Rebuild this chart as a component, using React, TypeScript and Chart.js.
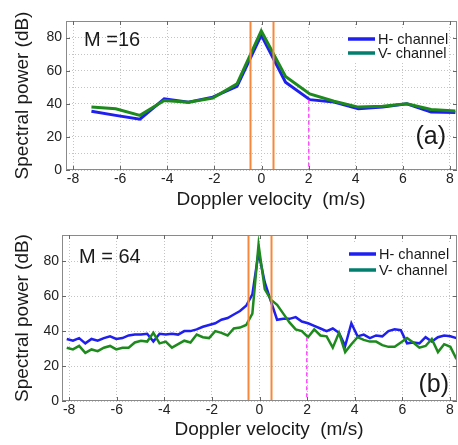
import React, { useEffect, useRef } from "react";
import { Chart, registerables } from "chart.js";

Chart.register(...registerables);

// ---------- DATA ----------
// Panel (a): M = 16
const velocityA = [-7.22, -6.19, -5.16, -4.13, -3.1, -2.07, -1.04, -0.01, 1.02, 2.05, 3.08, 4.11, 5.14, 6.17, 7.2, 8.23];
const hChannelA = [35.5, 33, 30.7, 43, 41, 44, 50.5, 81.5, 53, 42.5, 41, 37, 38, 40, 35, 34.7];
const vChannelA = [38, 37, 33, 42, 41, 43.5, 52, 84, 56.5, 46, 41.5, 38, 38.5, 40, 36.5, 35.7];

// Panel (b): M = 64
const velocityB = [
  -8.1, -7.84, -7.58, -7.32, -7.06, -6.8, -6.54, -6.28, -6.02, -5.76, -5.5, -5.24, -4.98, -4.72, -4.46, -4.2,
  -3.94, -3.68, -3.42, -3.16, -2.9, -2.64, -2.38, -2.12, -1.86, -1.6, -1.34, -1.08, -0.82, -0.56, -0.3, -0.04,
  0.22, 0.48, 0.74, 1.0, 1.26, 1.52, 1.78, 2.04, 2.3, 2.56, 2.82, 3.08, 3.34, 3.6, 3.86, 4.12,
  4.38, 4.64, 4.9, 5.16, 5.42, 5.68, 5.94, 6.2, 6.46, 6.72, 6.98, 7.24, 7.5, 7.76, 8.02, 8.28,
];
const hChannelB = [
  35.5, 34.5, 36, 33, 35.5, 34.5, 36, 37, 35.5, 36, 37.5, 38, 38, 38.5, 34, 38.5,
  38, 38.5, 38, 40, 40, 41, 42.5, 43.5, 44.5, 46.5, 47.5, 49.5, 51.5, 54.5, 61, 85,
  68, 57, 46.5, 47, 47, 48, 45.5, 44.5, 43, 41.5, 40, 41.5, 39, 31.5, 44.5, 37,
  38, 36, 37.5, 37, 40, 41, 40.5, 33, 33.5, 33, 36.5, 34, 36.5, 37.5, 37, 36,
];
const vChannelB = [
  30.5, 29.5, 31.5, 27.5, 29.5, 28.5, 30.5, 31.5, 29.5, 30.5, 30.5, 33.5, 34.5, 34, 39, 33,
  34, 30.5, 32.5, 34.5, 33.5, 38, 36.5, 36, 40, 39, 37.5, 41.5, 42, 43.5, 50, 89.5,
  64, 58, 55, 50, 45, 41, 40, 36.5, 41, 37.5, 37, 30.5, 39, 28, 32.5, 36.5,
  35, 34, 34, 32, 31, 31, 33.5, 36, 33.5, 30.5, 31.5, 35.5, 28, 32.5, 31, 24,
];

const xTickLabels = ["-8", "-6", "-4", "-2", "0", "2", "4", "6", "8"];
const yTickLabels = ["0", "20", "40", "60", "80"];
const seriesNames = ["H- channel", "V- channel"];
const gateLinesX = [-0.5, 0.5];
const markerX = 2;
const markerTopA = 42.5;
const markerTopB = 36.5;

// ---------- STYLE ----------
const FONT = '"Liberation Sans", Arial, Helvetica, sans-serif';
const BLUE = "#1f1ff0";
const GREEN = "#1e8a1e";
const LEGEND_GREEN = "#007f6e";
const ORANGE = "#f7883a";
const MAGENTA = "#ff4dff";
const TEXT = "#1a1a1a";

type PanelCfg = {
  velocity: number[];
  h: number[];
  v: number[];
  height: number;
  yMax: number;
  yStep: number;
  padTop: number;
  yAxisWidth: number;
  xAxisHeight: number;
  yTickPad: number;
  lineWidth: number;
  mText: string;
  mPos: [number, number];
  tag: string;
  tagPos: [number, number];
  xTitlePos: [number, number];
  markerTop: number;
  legend: { x: number; y: number; dy: number; box: [number, number, number, number] };
};

const panels: PanelCfg[] = [
  {
    velocity: velocityA,
    h: hChannelA,
    v: vChannelA,
    height: 222,
    yMax: 90,
    yStep: 10,
    padTop: 21,
    yAxisWidth: 66,
    xAxisHeight: 52,
    yTickPad: 4,
    lineWidth: 3,
    mText: "M =16",
    mPos: [84, 40],
    tag: "(a)",
    tagPos: [446, 137],
    xTitlePos: [271, 200],
    markerTop: markerTopA,
    legend: { x: 348, y: 39, dy: 14, box: [344, 29, 104, 33] },
  },
  {
    velocity: velocityB,
    h: hChannelB,
    v: vChannelB,
    height: 223,
    yMax: 95,
    yStep: 20,
    padTop: 13,
    yAxisWidth: 62,
    xAxisHeight: 44,
    yTickPad: 3,
    lineWidth: 2.5,
    mText: "M = 64",
    mPos: [79, 35],
    tag: "(b)",
    tagPos: [449, 163],
    xTitlePos: [269, 208],
    markerTop: markerTopB,
    legend: { x: 349, y: 32, dy: 16, box: [344, 22, 106, 36] },
  },
];

function makeDecor(cfg: PanelCfg) {
  return {
    id: "decor",
    afterDatasetsDraw(chart: any) {
      const { ctx, chartArea: a, scales } = chart;
      const x = scales.x;
      const y = scales.y;
      ctx.save();

      // gate lines
      ctx.strokeStyle = ORANGE;
      ctx.lineWidth = 2;
      for (const g of gateLinesX) {
        const px = Math.round(x.getPixelForValue(g)) + 0.5;
        ctx.beginPath();
        ctx.moveTo(px, a.top);
        ctx.lineTo(px, a.bottom);
        ctx.stroke();
      }

      // magenta marker
      ctx.strokeStyle = MAGENTA;
      ctx.lineWidth = 1.5;
      ctx.setLineDash([4, 3]);
      const mx = Math.round(x.getPixelForValue(markerX)) - 0.25;
      ctx.beginPath();
      ctx.moveTo(mx, y.getPixelForValue(cfg.markerTop));
      ctx.lineTo(mx, a.bottom);
      ctx.stroke();
      ctx.setLineDash([]);

      // box
      ctx.strokeStyle = "#8a8a8a";
      ctx.lineWidth = 1;
      ctx.strokeRect(Math.round(a.left) + 0.5, Math.round(a.top) + 0.5, Math.round(a.width) - 1, Math.round(a.height) - 1);

      // inner ticks
      ctx.strokeStyle = "#666";
      ctx.beginPath();
      for (const t of xTickLabels) {
        const px = Math.round(x.getPixelForValue(Number(t))) + 0.5;
        ctx.moveTo(px, a.bottom);
        ctx.lineTo(px, a.bottom - 4);
        ctx.moveTo(px, a.top);
        ctx.lineTo(px, a.top + 4);
      }
      for (const t of yTickLabels) {
        const py = Math.round(y.getPixelForValue(Number(t))) + 0.5;
        ctx.moveTo(a.left, py);
        ctx.lineTo(a.left + 4, py);
        ctx.moveTo(a.right, py);
        ctx.lineTo(a.right - 4, py);
      }
      ctx.stroke();

      // legend
      const L = cfg.legend;
      ctx.fillStyle = "#ffffff";
      ctx.fillRect(L.box[0], L.box[1], L.box[2], L.box[3]);
      const legendColors = [BLUE, LEGEND_GREEN];
      ctx.font = `14.5px ${FONT}`;
      ctx.textBaseline = "middle";
      ctx.textAlign = "left";
      seriesNames.forEach((name, i) => {
        const ly = L.y + i * L.dy;
        ctx.strokeStyle = legendColors[i];
        ctx.lineWidth = 3.5;
        ctx.beginPath();
        ctx.moveTo(L.x, ly);
        ctx.lineTo(L.x + 27, ly);
        ctx.stroke();
        ctx.fillStyle = TEXT;
        ctx.fillText(name, L.x + 30, ly + 0.5);
      });

      // M label
      ctx.fillStyle = TEXT;
      ctx.font = `20px ${FONT}`;
      ctx.textAlign = "left";
      ctx.fillText(cfg.mText, cfg.mPos[0], cfg.mPos[1]);

      // panel tag
      ctx.font = `25px ${FONT}`;
      ctx.textAlign = "right";
      ctx.fillText(cfg.tag, cfg.tagPos[0], cfg.tagPos[1]);

      // x title
      ctx.font = `19px ${FONT}`;
      ctx.textAlign = "center";
      ctx.fillText("Doppler velocity  (m/s)", cfg.xTitlePos[0], cfg.xTitlePos[1]);

      ctx.restore();
    },
  };
}

function Panel({ cfg }: { cfg: PanelCfg }) {
  const ref = useRef<HTMLCanvasElement>(null);
  useEffect(() => {
    const canvas = ref.current;
    if (!canvas) return;
    const chart = new Chart(canvas, {
      type: "line",
      data: {
        datasets: [
          {
            label: seriesNames[1],
            data: cfg.velocity.map((vv, i) => ({ x: vv, y: cfg.v[i] })),
            borderColor: GREEN,
            borderWidth: cfg.lineWidth,
            pointRadius: 0,
            tension: 0,
            order: 0,
          },
          {
            label: seriesNames[0],
            data: cfg.velocity.map((vv, i) => ({ x: vv, y: cfg.h[i] })),
            borderColor: BLUE,
            borderWidth: cfg.lineWidth,
            pointRadius: 0,
            tension: 0,
            order: 1,
          },
        ],
      },
      options: {
        responsive: false,
        animation: false,
        devicePixelRatio: 1,
        layout: { padding: { top: cfg.padTop, right: 1, left: 0, bottom: 0 } },
        plugins: { legend: { display: false }, tooltip: { enabled: false } },
        scales: {
          x: {
            type: "linear",
            min: -8.3,
            max: 8.3,
            ticks: {
              stepSize: 2,
              includeBounds: false,
              autoSkip: false,
              maxRotation: 0,
              padding: 1,
              color: "#222",
              font: { family: FONT, size: 14 },
              callback: (val: any) => (xTickLabels.includes(String(val)) ? String(val) : ""),
            },
            grid: { color: "#c4c4c4", lineWidth: 1, drawTicks: false },
            border: { display: false, dash: [1, 2] },
            afterFit: (s: any) => {
              s.height = cfg.xAxisHeight;
            },
          },
          y: {
            type: "linear",
            min: 0,
            max: cfg.yMax,
            ticks: {
              stepSize: cfg.yStep,
              includeBounds: false,
              autoSkip: false,
              padding: cfg.yTickPad,
              color: "#222",
              font: { family: FONT, size: 14 },
              callback: (val: any) => (yTickLabels.includes(String(val)) ? String(val) : ""),
            },
            grid: { color: "#c4c4c4", lineWidth: 1, drawTicks: false },
            border: { display: false, dash: [1, 2] },
            title: {
              display: true,
              text: "Spectral power (dB)",
              color: TEXT,
              font: { family: FONT, size: 19 },
              padding: { top: 11, bottom: 0 },
            },
            afterFit: (s: any) => {
              s.width = cfg.yAxisWidth;
            },
          },
        },
      } as any,
      plugins: [makeDecor(cfg)],
    });
    return () => chart.destroy();
  }, [cfg]);
  return (
    <canvas
      ref={ref}
      width={458}
      height={cfg.height}
      style={{ display: "block", width: 458, height: cfg.height }}
    />
  );
}

export default function App() {
  return (
    <div style={{ position: "absolute", left: 0, top: 0, width: 458, height: 445, background: "#fff" }}>
      {panels.map((p, i) => (
        <Panel key={i} cfg={p} />
      ))}
    </div>
  );
}
